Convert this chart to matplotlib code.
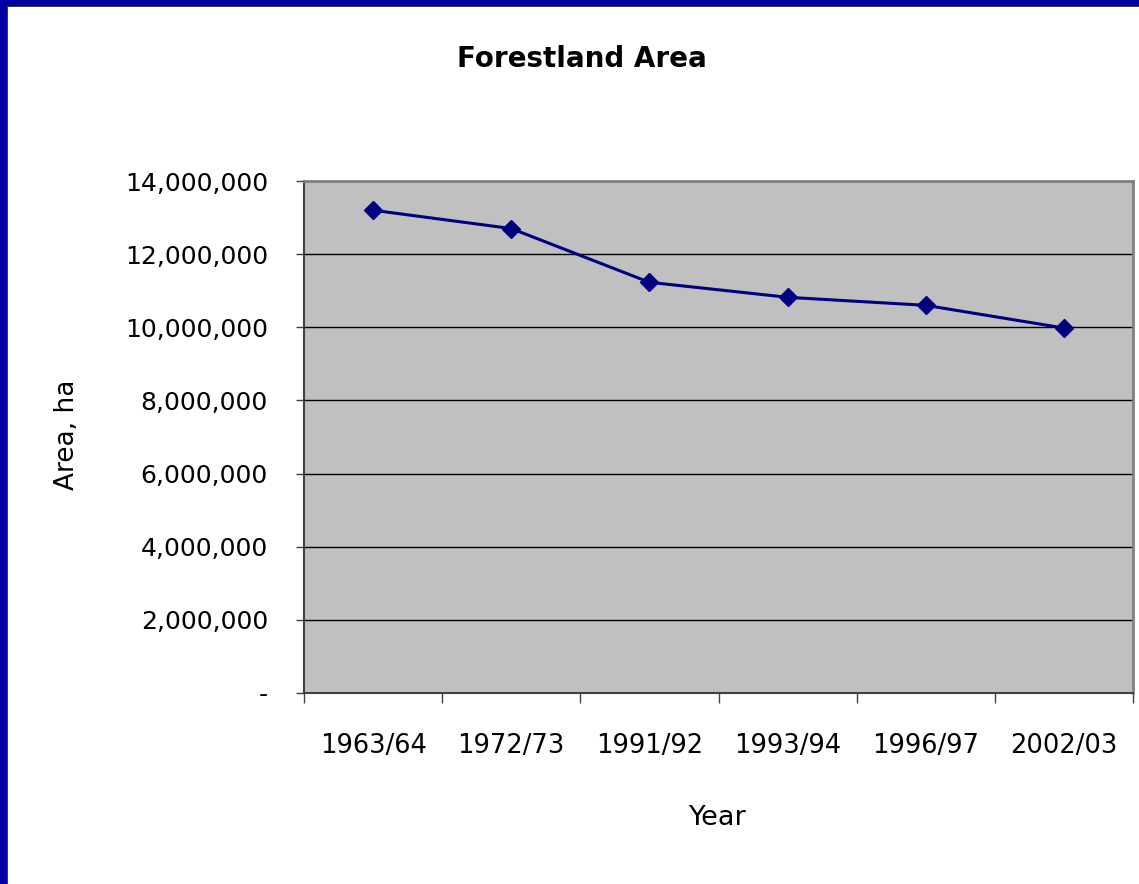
import matplotlib.pyplot as plt
from matplotlib.patches import Rectangle
from matplotlib.ticker import FuncFormatter

# Data
years = ["1963/64", "1972/73", "1991/92", "1993/94", "1996/97", "2002/03"]
area_ha = [13200000, 12700000, 11230000, 10820000, 10600000, 9980000]

W, H = 1139, 884
fig = plt.figure(figsize=(W / 100, H / 100), dpi=100)
fig.patch.set_facecolor("white")

# blue frame on left and top edges
fig.patches.append(Rectangle((0, 0), 7 / W, 1, transform=fig.transFigure,
                             facecolor="#0000A0", edgecolor="none", zorder=0))
fig.patches.append(Rectangle((0, 1 - 6 / H), 1, 6 / H, transform=fig.transFigure,
                             facecolor="#0000A0", edgecolor="none", zorder=0))
fig.patches.append(Rectangle((7 / W, 0), 1 / W, 1 - 6 / H, transform=fig.transFigure,
                             facecolor="#404040", edgecolor="none", zorder=0))
fig.patches.append(Rectangle((7 / W, 1 - 7 / H), 1, 1 / H, transform=fig.transFigure,
                             facecolor="#404040", edgecolor="none", zorder=0))

ax = fig.add_axes([304 / W, 191 / H, (1133 - 304) / W, (693 - 181) / H])
ax.set_facecolor("#C0C0C0")

x = list(range(len(years)))
ax.plot(x, area_ha, color="#000080", linewidth=2.2, marker="D", markersize=9,
        zorder=3)

ax.set_xlim(-0.5, len(years) - 0.5)
ax.set_ylim(0, 14000000)
ax.set_yticks(range(0, 14000001, 2000000))
ax.yaxis.set_major_formatter(FuncFormatter(lambda v, p: "-" if v == 0 else f"{int(v):,}"))
ax.grid(axis="y", color="black", linewidth=1)
ax.set_axisbelow(True)

# boundary ticks, labels centred between them
ax.set_xticks([i - 0.5 for i in range(len(years) + 1)])
ax.set_xticklabels([])
ax.set_xticks(x, minor=True)
ax.set_xticklabels(years, minor=True)
ax.tick_params(axis="x", which="major", length=7, width=1, color="#404040")
ax.tick_params(axis="x", which="minor", length=0, pad=29, labelsize=18.5)
ax.tick_params(axis="y", length=6, width=1, color="#404040", pad=20, labelsize=18)

for side in ["left", "bottom"]:
    ax.spines[side].set_color("#404040")
    ax.spines[side].set_linewidth(1.5)
for side in ["top", "right"]:
    ax.spines[side].set_color("#808080")
    ax.spines[side].set_linewidth(2)

fig.text(582 / W, 1 - 59 / H, "Forestland Area", ha="center", va="center",
         fontsize=20, fontweight="bold")
fig.text(718 / W, 1 - 818 / H, "Year", ha="center", va="center", fontsize=19.5)
fig.text(67 / W, 1 - 435 / H, "Area, ha", ha="center", va="center",
         rotation=90, fontsize=19)

fig.savefig("out.png", dpi=100)
